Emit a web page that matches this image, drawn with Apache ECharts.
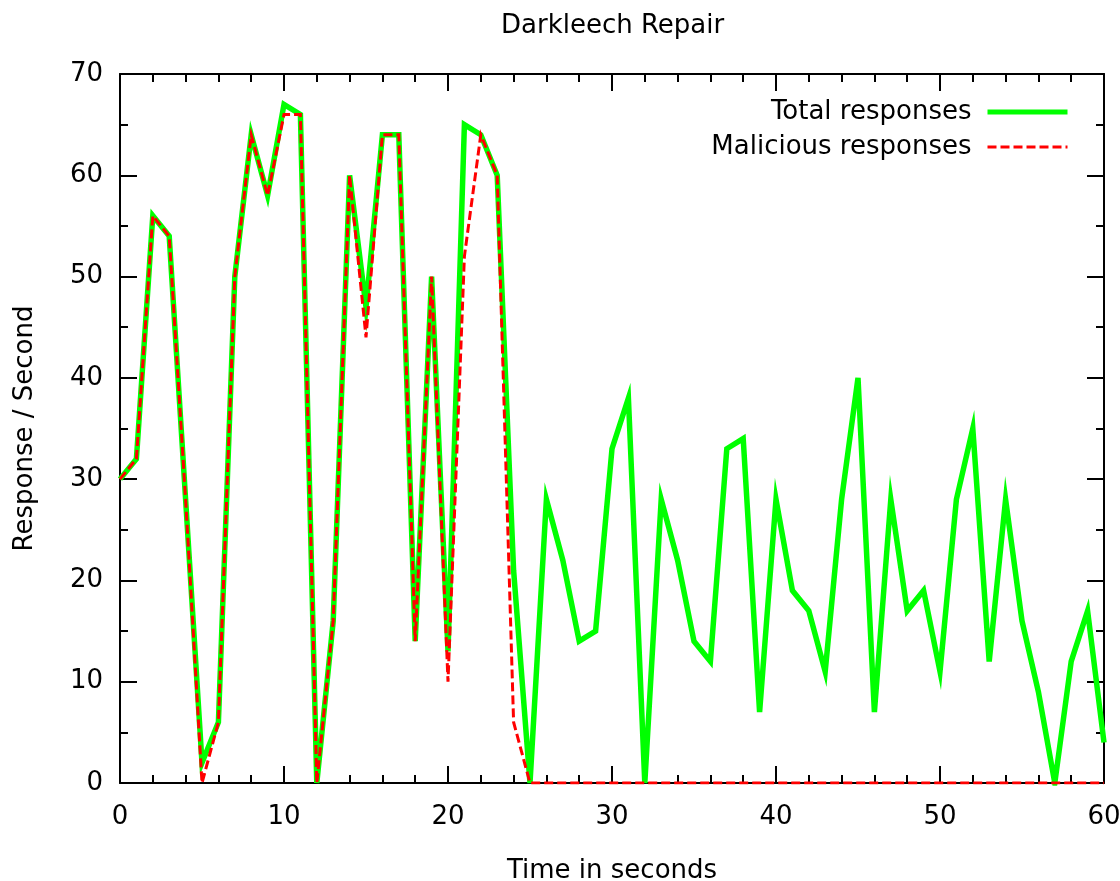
<!DOCTYPE html>
<html>
<head>
<meta charset="utf-8">
<script src="https://cdn.jsdelivr.net/npm/echarts@6/dist/echarts.min.js"></script>
<style>
	html, body { margin: 0; padding: 0; background: #fff; }
	#chart { width: 1120px; height: 881px; }
</style>
</head>
<body>
<div id="chart"></div>
<script>
var seconds = [0,1,2,3,4,5,6,7,8,9,10,11,12,13,14,15,16,17,18,19,20,
	21,22,23,24,25,26,27,28,29,30,31,32,33,34,35,36,37,38,39,40,
	41,42,43,44,45,46,47,48,49,50,51,52,53,54,55,56,57,58,59,60];
var totalResponses = [30,32,56,54,28,2,6,50,64,58,67,66,0,16,60,47,64,64,14,50,13,
	65,64,60,21,0,28,22,14,15,33,38,0,28,22,14,12,33,34,7,28,
	19,17,11,28,40,7,28,17,19,11,28,35,12,28,16,9,0,12,17,4];
var maliciousResponses = [30,32,56,54,28,0,6,50,64,58,66,66,0,16,60,44,64,64,14,50,10,
	52,64,60,6,0,0,0,0,0,0,0,0,0,0,0,0,0,0,0,0,
	0,0,0,0,0,0,0,0,0,0,0,0,0,0,0,0,0,0,0,0];

var FONT = 'DejaVu Sans';
var FS = 26;

window.onload = function(){
	var chart = echarts.init(document.getElementById('chart'));
	chart.setOption(getOption());
};

function pairs(xs, ys){
	var out = [];
	for (var i = 0; i < xs.length; i++) out.push([xs[i], ys[i]]);
	return out;
}

function frameAxis(pos, max, interval, minorSplit, labels, margin){
	return {
		type: 'value',
		position: pos,
		min: 0,
		max: max,
		interval: interval,
		splitLine: { show: false },
		axisLine: { show: true, onZero: false, lineStyle: { color: '#000', width: 2 } },
		axisTick: { show: true, inside: true, length: 17, lineStyle: { color: '#000', width: 2 } },
		minorTick: { show: true, splitNumber: minorSplit, length: 8, lineStyle: { color: '#000', width: 2 } },
		axisLabel: { show: labels, color: '#000', fontSize: FS, fontFamily: FONT, margin: margin }
	};
}

function getOption(){
	var xBottom = frameAxis('bottom', 60, 10, 5, true, 21);
	xBottom.name = 'Time in seconds';
	xBottom.nameLocation = 'middle';
	xBottom.nameGap = 75;
	xBottom.nameTextStyle = { color: '#000', fontSize: FS, fontFamily: FONT };

	var yLeft = frameAxis('left', 70, 10, 2, true, 17);
	yLeft.name = 'Response / Second';
	yLeft.nameLocation = 'middle';
	yLeft.nameGap = 82;
	yLeft.nameTextStyle = { color: '#000', fontSize: FS, fontFamily: FONT };

	var option = {
		animation: false,
		backgroundColor: '#fff',
		title: {
			text: 'Darkleech Repair',
			left: 496,
			top: 8,
			textStyle: { color: '#000', fontSize: FS, fontWeight: 'normal', fontFamily: FONT }
		},
		legend: {
			orient: 'vertical',
			right: 50,
			top: 99,
			padding: 0,
			align: 'right',
			itemWidth: 80,
			itemHeight: 14,
			itemGap: 9,
			itemStyle: { opacity: 0 },
			textStyle: { color: '#000', fontSize: FS, fontFamily: FONT, padding: [0, 11, 0, 0] },
			data: [
				{ name: 'Total responses', lineStyle: { color: '#00ff00', width: 5 } },
				{ name: 'Malicious responses', lineStyle: { color: '#ff0000', width: 3, type: [9, 4] } }
			]
		},
		grid: { left: 120, right: 16, top: 74, bottom: 98, containLabel: false, outerBoundsMode: 'none' },
		xAxis: [xBottom, frameAxis('top', 60, 10, 5, false, 0)],
		yAxis: [yLeft, frameAxis('right', 70, 10, 2, false, 0)],
		series: [
			{
				name: 'Total responses',
				type: 'line',
				symbol: 'none',
				xAxisIndex: 0,
				yAxisIndex: 0,
				data: pairs(seconds, totalResponses),
				lineStyle: { color: '#00ff00', width: 5.5, join: 'miter' },
				itemStyle: { color: '#00ff00' }
			},
			{
				name: 'Malicious responses',
				type: 'line',
				symbol: 'none',
				xAxisIndex: 0,
				yAxisIndex: 0,
				data: pairs(seconds, maliciousResponses),
				lineStyle: { color: '#ff0000', width: 3, type: [9, 4], join: 'miter' },
				itemStyle: { color: '#ff0000' }
			}
		]
	};
	return option;
}
</script>
</body>
</html>
